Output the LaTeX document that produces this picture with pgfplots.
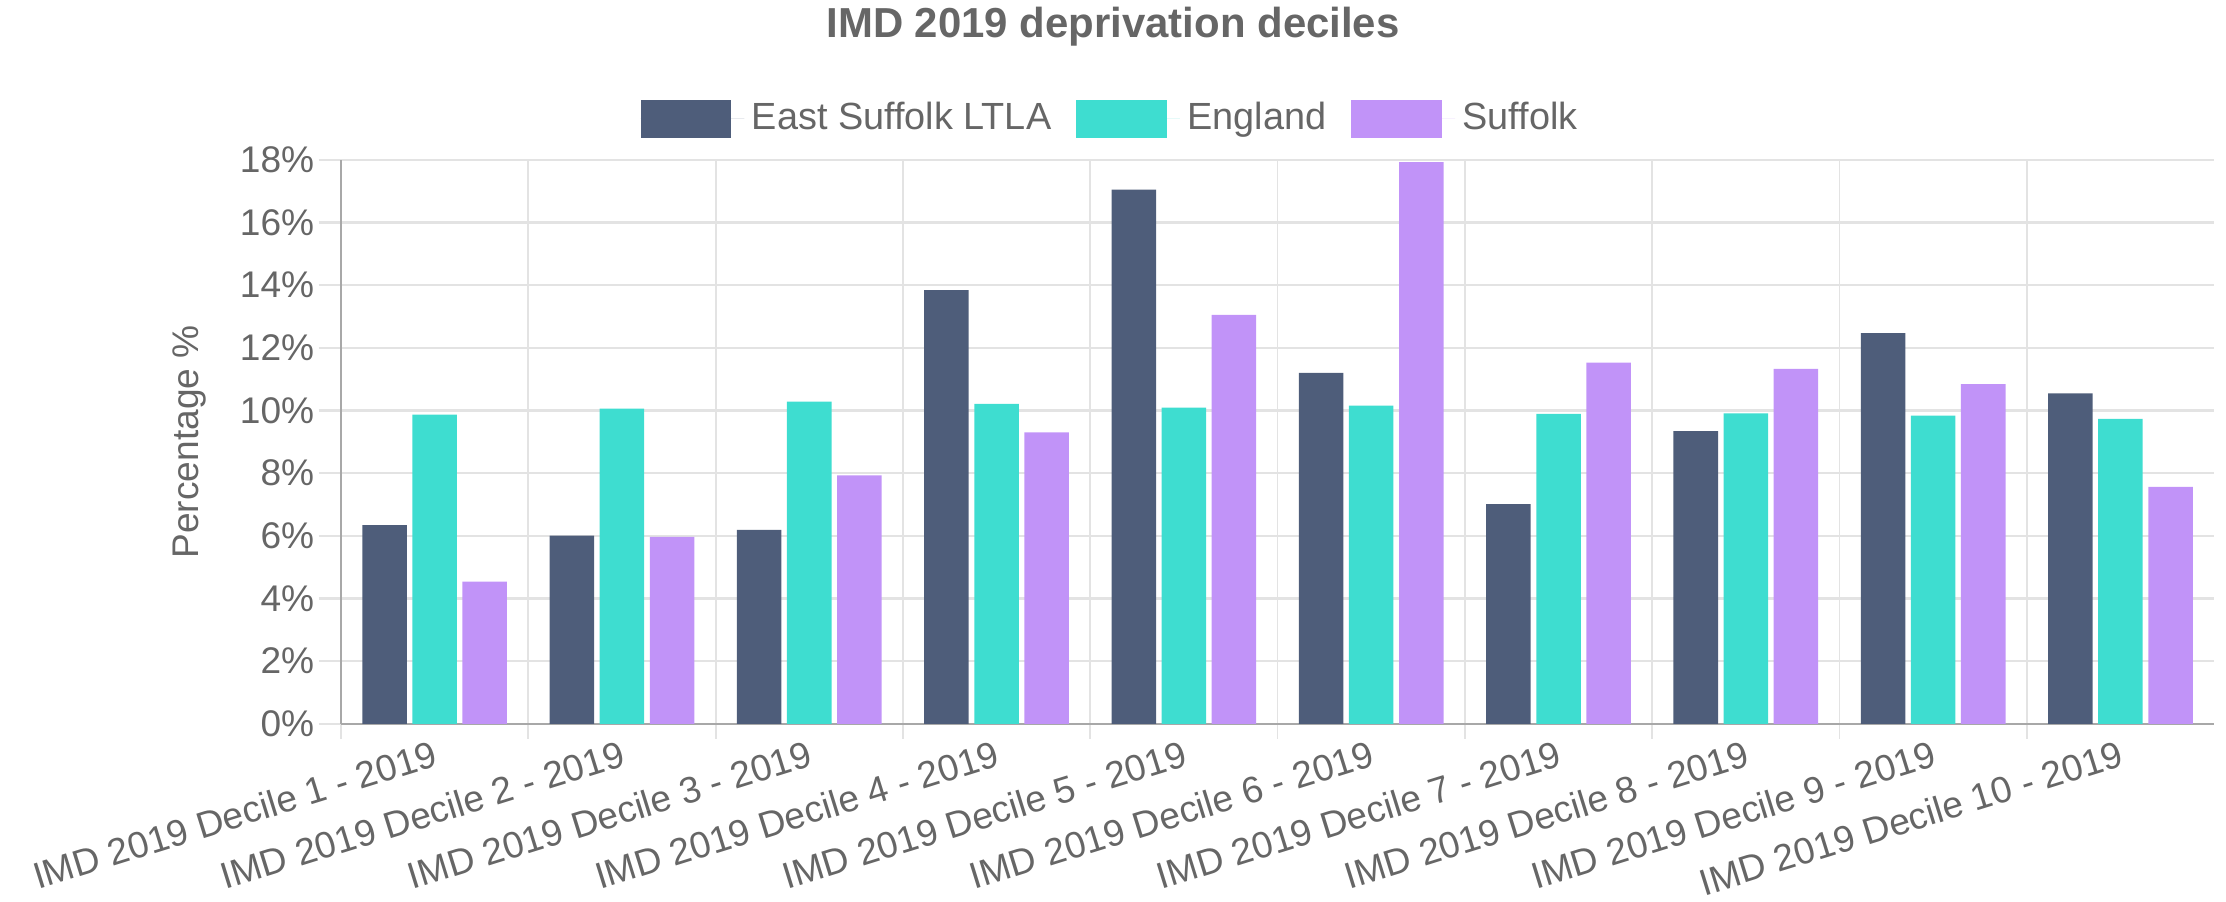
\documentclass[border=0pt]{standalone}
\usepackage{fontspec}
\setmainfont{Liberation Sans}
\usepackage{pgfplots}
\pgfplotsset{compat=1.18}
\definecolor{esuf}{HTML}{4E5D7A}
\definecolor{eng}{HTML}{3EDDD0}
\definecolor{suf}{HTML}{C193F8}
\definecolor{txt}{HTML}{666666}
\definecolor{gridc}{HTML}{E3E3E3}
\definecolor{axc}{HTML}{A8A8A8}
\begin{document}
\begin{tikzpicture}
\path[use as bounding box] (0,0) rectangle (600pt,242.9pt);
\begin{axis}[
  at={(91.9pt,47.8pt)}, anchor=south west,
  scale only axis, width=504.9pt, height=152pt,
  xmin=-0.5, xmax=9.5, ymin=0, ymax=18,
  ybar=1.5pt, bar width=12pt,
  axis x line*=bottom, axis y line*=left,
  axis line style={axc, line width=0.6pt},
  tick align=outside,
  xtick={0,...,9},
  xticklabels={IMD 2019 Decile 1 - 2019, IMD 2019 Decile 2 - 2019, IMD 2019 Decile 3 - 2019, IMD 2019 Decile 4 - 2019, IMD 2019 Decile 5 - 2019, IMD 2019 Decile 6 - 2019, IMD 2019 Decile 7 - 2019, IMD 2019 Decile 8 - 2019, IMD 2019 Decile 9 - 2019, IMD 2019 Decile 10 - 2019},
  major x tick style={draw=none},
  minor xtick={-0.5,0.5,...,8.5},
  minor tick length=4pt,
  major tick length=6pt,
  xminorgrids, minor x grid style={gridc, line width=0.5pt},
  minor x tick style={gridc, line width=0.5pt},
  ytick={0,2,...,18}, ymajorgrids,
  y grid style={gridc, line width=0.6pt},
  major y tick style={gridc, line width=0.6pt},
  yticklabel={\pgfmathprintnumber{\tick}\%},
  /pgf/number format/assume math mode=true,
  every tick label/.append style={font=\fontsize{10}{12}\selectfont, text=txt},
  yticklabel style={inner sep=1pt},
  xticklabel style={rotate=17.3, anchor=north east, inner sep=0pt, yshift=2.2pt},
  ylabel={Percentage \%},
  ylabel style={at={(axis description cs:-0.081,0.5)}, anchor=center, font=\fontsize{10}{12}\selectfont, text=txt},
  legend columns=3,
  legend style={draw=none, at={(0.412,1.073)}, anchor=center, font=\fontsize{10.2}{12}\selectfont, text=txt,
    /tikz/every even column/.append style={column sep=4.7pt}},
  legend image code/.code={\fill[#1] (0pt,-5.15pt) rectangle (24.5pt,5.15pt); \path (0pt,0pt) -- (28pt,0pt);},
]
\addplot[fill=esuf, draw=none] coordinates {(0,6.34) (1,6.01) (2,6.19) (3,13.84) (4,17.05) (5,11.2) (6,7.01) (7,9.34) (8,12.47) (9,10.55)};
\addplot[fill=eng, draw=none] coordinates {(0,9.87) (1,10.06) (2,10.28) (3,10.21) (4,10.09) (5,10.16) (6,9.89) (7,9.91) (8,9.84) (9,9.73)};
\addplot[fill=suf, draw=none] coordinates {(0,4.54) (1,5.97) (2,7.93) (3,9.30) (4,13.05) (5,17.93) (6,11.53) (7,11.33) (8,10.84) (9,7.56)};
\legend{East Suffolk LTLA, England, Suffolk}
\end{axis}
\node[font=\bfseries\fontsize{11.3}{13}\selectfont, text=txt] at (300pt,235.7pt) {IMD 2019 deprivation deciles};
\end{tikzpicture}
\end{document}
